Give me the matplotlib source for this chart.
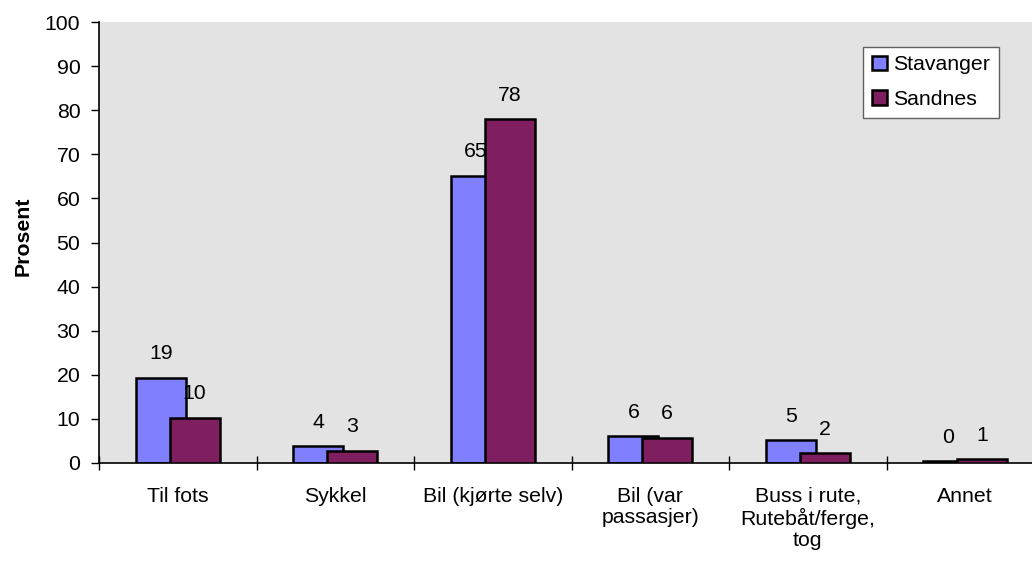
import matplotlib
matplotlib.use("Agg")
import matplotlib.pyplot as plt
from matplotlib.patches import Patch
import numpy as np

categories = ["Til fots", "Sykkel", "Bil (kjørte selv)", "Bil (var\npassasjer)",
              "Buss i rute,\nRutebåt/ferge,\ntog", "Annet"]
stavanger = [19.3, 3.8, 65.1, 6.1, 5.2, 0.4]
sandnes = [10.3, 2.8, 77.9, 5.7, 2.2, 0.8]
series_names = ["Stavanger", "Sandnes"]
yticks = list(range(0, 101, 10))

plt.rcParams["font.family"] = ["Liberation Sans", "DejaVu Sans"]
FS = 15.3

W, H = 1032, 565
fig = plt.figure(figsize=(W / 100, H / 100), dpi=100)
fig.patch.set_facecolor("white")
left, right, top, bottom = 99, 1044, 22, 463
ax = fig.add_axes([left / W, 1 - bottom / H, (right - left) / W, (bottom - top) / H])
ax.set_facecolor("#E3E3E3")

x = np.arange(len(categories))
bw = 0.318
off = 0.107
c1, c2 = "#8080FF", "#7F1F5F"
b1 = ax.bar(x - off, stavanger, bw, color=c1, edgecolor="black", linewidth=1.8, zorder=2)
b2 = ax.bar(x + off, sandnes, bw, color=c2, edgecolor="black", linewidth=1.8, zorder=3)

for xs, vals, z in ((x - off, stavanger, 1.5), (x + off, sandnes, 2.5)):
    for xi, v in zip(xs, vals):
        ax.annotate(f"{v:.0f}", (xi, v), xytext=(0, 17.3), textcoords="offset points",
                    ha="center", va="center", fontsize=FS, zorder=z)

ax.set_xlim(-0.5, len(categories) - 0.5)
ax.set_ylim(0, 100)
ax.set_yticks(yticks)
ax.tick_params(axis="y", direction="out", length=6, width=1, labelsize=FS, pad=7.5)
ax.set_xticks(x)
ax.set_xticklabels(categories, fontsize=FS, linespacing=1.13, va="top")
ax.set_xticks(np.arange(-0.5, len(categories)), minor=True)
ax.tick_params(axis="x", which="major", length=0, pad=17)
ax.tick_params(axis="x", which="minor", direction="inout", length=10, width=1)

for s in ("top", "right"):
    ax.spines[s].set_visible(False)
for s in ("left", "bottom"):
    ax.spines[s].set_color("black")
    ax.spines[s].set_linewidth(1.2)

fig.text(23 / W, 1 - 236 / H, "Prosent", rotation=90, ha="center", va="center",
         fontsize=FS, fontweight="bold")

handles = [Patch(facecolor=c1, edgecolor="black", linewidth=1.8),
           Patch(facecolor=c2, edgecolor="black", linewidth=1.8)]
leg = fig.legend(handles, series_names, loc="upper left",
                 bbox_to_anchor=(863 / W, 1 - 46.5 / H), fontsize=FS,
                 frameon=True, fancybox=False, framealpha=1, facecolor="white",
                 edgecolor="#606060", handlelength=0.7, handleheight=0.7,
                 handletextpad=0.3, labelspacing=0.75, borderpad=0.42,
                 borderaxespad=0)
leg.get_frame().set_linewidth(1.0)

fig.savefig("out.png", dpi=100)
